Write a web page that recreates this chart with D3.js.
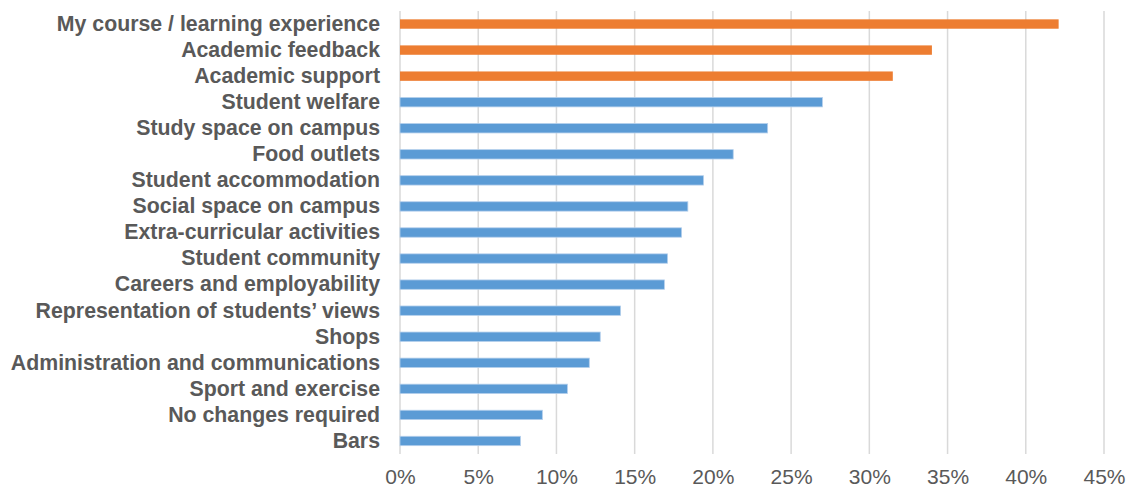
<!DOCTYPE html>
<html lang="en">
<head>
    <meta charset="UTF-8">
    <script src="https://d3js.org/d3.v7.min.js"></script>
    <title>Areas to improve</title>
    <style>
        body { margin: 0; background: #fff; }
        text { font-family: "Liberation Sans", Arial, sans-serif; fill: #595959; }
    </style>
</head>
<body>
    <div id="chart"></div>
    <script>
        // categories, top to bottom
        const categories = [
            "My course / learning experience",
            "Academic feedback",
            "Academic support",
            "Student welfare",
            "Study space on campus",
            "Food outlets",
            "Student accommodation",
            "Social space on campus",
            "Extra-curricular activities",
            "Student community",
            "Careers and employability",
            "Representation of students\u2019 views",
            "Shops",
            "Administration and communications",
            "Sport and exercise",
            "No changes required",
            "Bars"
        ];
        // share of respondents (%)
        const values = [42.1, 34.0, 31.5, 27.0, 23.5, 21.3, 19.4, 18.4, 18.0, 17.1, 16.9, 14.1, 12.8, 12.1, 10.7, 9.1, 7.7];
        // first three are highlighted
        const highlighted = ["My course / learning experience", "Academic feedback", "Academic support"];
        const tickValues = [0, 5, 10, 15, 20, 25, 30, 35, 40, 45];

        const width = 1128;
        const height = 489;
        const margin = { top: 11, right: 24, bottom: 35, left: 400 };

        const svg = d3.select("#chart")
            .append("svg")
            .attr("width", width)
            .attr("height", height);

        const x = d3.scaleLinear()
            .domain([0, 45])
            .range([margin.left, width - margin.right]);

        const y = d3.scaleBand()
            .domain(categories)
            .range([margin.top, height - margin.bottom])
            .paddingInner(0.64)
            .paddingOuter(0.32);

        // gridlines
        svg.append("g")
            .selectAll("line")
            .data(tickValues)
            .enter().append("line")
            .attr("x1", d => x(d))
            .attr("x2", d => x(d))
            .attr("y1", margin.top)
            .attr("y2", height - margin.bottom)
            .attr("stroke", "#d9d9d9")
            .attr("stroke-width", 1.5);

        // bars
        svg.append("g")
            .selectAll("rect")
            .data(categories)
            .enter().append("rect")
            .attr("x", x(0))
            .attr("y", d => y(d))
            .attr("width", (d, i) => x(values[i]) - x(0))
            .attr("height", y.bandwidth())
            .attr("fill", d => highlighted.includes(d) ? "#ed7d31" : "#5b9bd5")
            .attr("stroke", d => highlighted.includes(d) ? "none" : "#b4cfec")
            .attr("stroke-width", 0.8);

        // category labels
        const yAxis = svg.append("g")
            .attr("transform", `translate(${margin.left},0)`)
            .call(d3.axisLeft(y).tickSize(0).tickPadding(20));
        yAxis.select(".domain").remove();
        yAxis.selectAll("text")
            .attr("font-size", "21.3px")
            .attr("font-weight", "bold")
            .attr("font-family", "'Liberation Sans', Arial, sans-serif")
            .attr("fill", "#595959");

        // value axis
        const xAxis = svg.append("g")
            .attr("transform", `translate(0,${height - margin.bottom})`)
            .call(d3.axisBottom(x).tickValues(tickValues).tickFormat(d => d + "%").tickSize(0).tickPadding(15));
        xAxis.select(".domain").remove();
        xAxis.selectAll("text")
            .attr("font-size", "21px")
            .attr("font-family", "'Liberation Sans', Arial, sans-serif")
            .attr("fill", "#595959");
    </script>
</body>
</html>
